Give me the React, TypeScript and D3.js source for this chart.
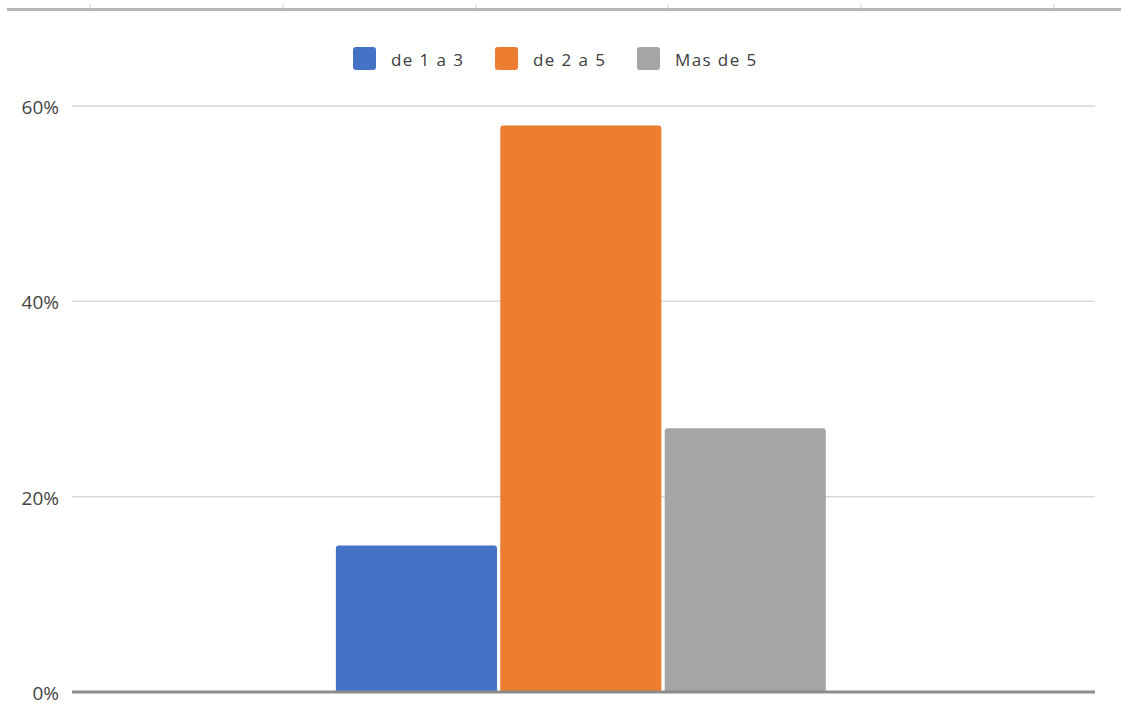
import React from "react";
import * as d3 from "d3";

const categories = [""];
const seriesNames = ["de 1 a 3", "de 2 a 5", "Mas de 5"];
const seriesValues = [15, 58, 27];
const seriesColors = ["#4472C4", "#ED7D31", "#A5A5A5"];
const yTicks = [0, 20, 40, 60];
const topTicks = [90, 283, 476, 668, 861, 1054];

const W = 1121;
const H = 728;
const left = 72;
const right = 1095;
const yBase = 692;
const yTop = 106;

export default function App() {
  const y = d3.scaleLinear().domain([0, 60]).range([yBase, yTop]);
  const x0 = d3
    .scaleBand<string>()
    .domain(categories)
    .range([left, right])
    .paddingInner(0)
    .paddingOuter(0.544)
    .align(0.495);
  const x1 = d3.scaleBand<string>().domain(seriesNames).range([0, x0.bandwidth()]).paddingInner(0.02).paddingOuter(0);
  const font = "'Open Sans', 'DejaVu Sans', sans-serif";
  const legendX = [353, 495, 637];

  return (
    <svg width={W} height={H} style={{ position: "fixed", left: 0, top: 0, background: "#fff" }}>
      <rect x={0} y={0} width={W} height={H} fill="#fff" />
      {/* top frame line */}
      <rect x={7} y={8} width={W - 7} height={3} fill="#b5b5b5" />
      {topTicks.map((t) => (
        <line key={t} x1={t} x2={t} y1={4} y2={9} stroke="#d0d0d0" strokeWidth={1} />
      ))}
      {/* legend */}
      {seriesNames.map((n, i) => (
        <g key={n}>
          <rect x={legendX[i]} y={47} width={23} height={23} rx={3} fill={seriesColors[i]} />
          <text x={legendX[i] + 38} y={66} fontSize={17} letterSpacing={1.4} fontFamily={font} fill="#3c3c3c">
            {n}
          </text>
        </g>
      ))}
      {/* gridlines */}
      {yTicks.filter((t) => t > 0).map((t) => (
        <line key={t} x1={left} x2={right} y1={y(t)} y2={y(t)} stroke="#d9d9d9" strokeWidth={1.5} />
      ))}
      {yTicks.map((t) => (
        <text key={"l" + t} x={59} y={y(t) + 8} textAnchor="end" fontSize={19} fontFamily={font} fill="#444">
          {t}%
        </text>
      ))}
      {/* bars */}
      {categories.map((c) => (
        <g key={c} transform={`translate(${x0(c)},0)`}>
          {seriesNames.map((n, i) => (
            <path
              key={n}
              d={(() => {
                const bx = x1(n)!;
                const bw = x1.bandwidth();
                const by = y(seriesValues[i]);
                const r = 3;
                return `M${bx},${yBase} L${bx},${by + r} Q${bx},${by} ${bx + r},${by} L${bx + bw - r},${by} Q${bx + bw},${by} ${bx + bw},${by + r} L${bx + bw},${yBase} Z`;
              })()}
              fill={seriesColors[i]}
            />
          ))}
        </g>
      ))}
      {/* baseline */}
      <line x1={left} x2={right} y1={yBase} y2={yBase} stroke="#8c8c8c" strokeWidth={3} />
    </svg>
  );
}
